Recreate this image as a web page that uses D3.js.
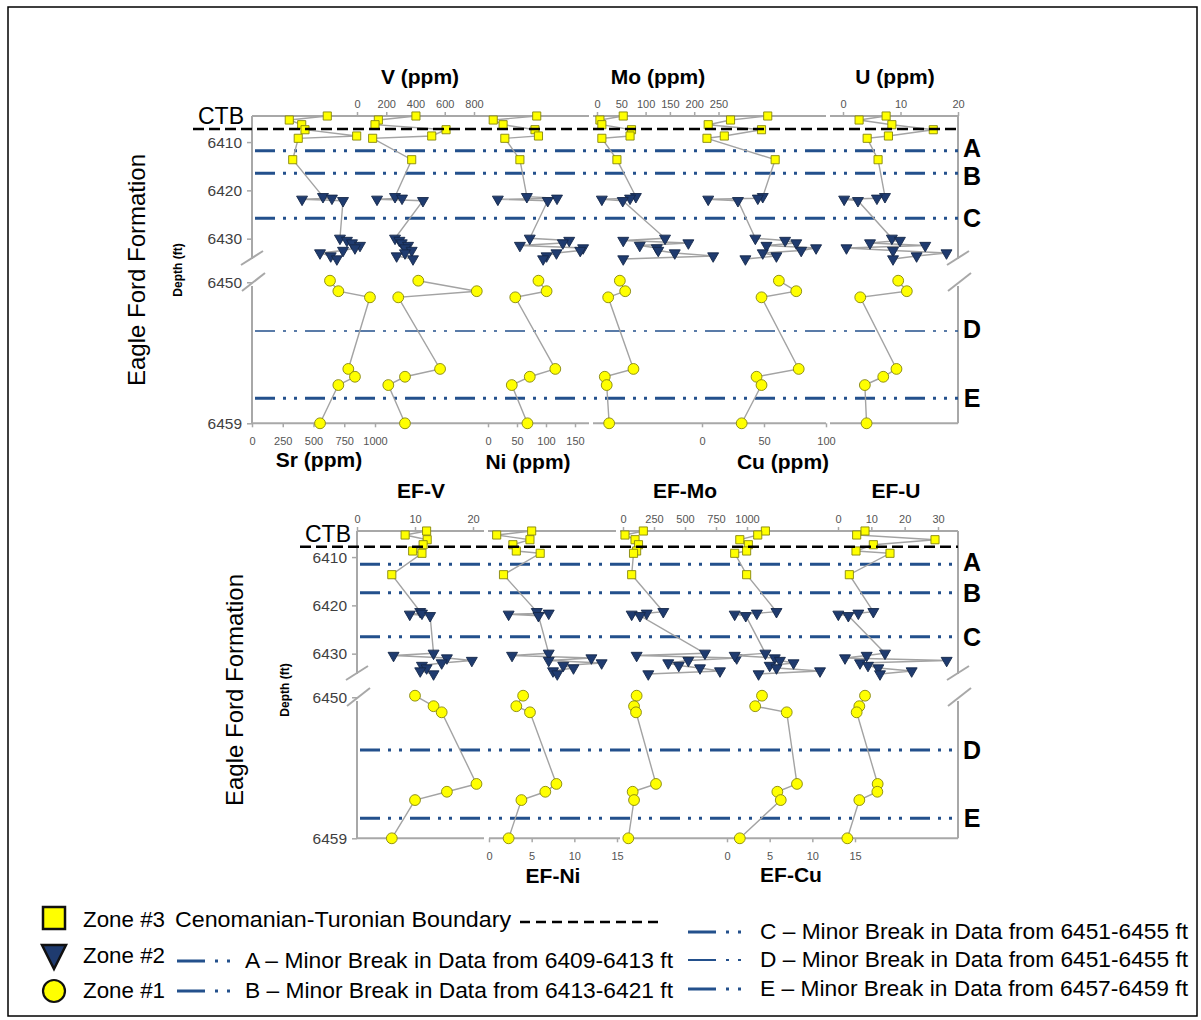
<!DOCTYPE html>
<html>
<head>
<meta charset="utf-8">
<script src="https://cdn.jsdelivr.net/npm/d3@7/dist/d3.min.js"></script>
<style>
  body { margin: 0; background: #fff; }
  svg { display: block; }
  text { font-family: "Liberation Sans", Arial, sans-serif; }
</style>
</head>
<body>
<svg id="chart" width="1201" height="1020"></svg>
<script>
// ---------------- sample depths (ft) ----------------
const zone3Depths = [6404.6, 6405.43, 6406.4, 6407.44, 6408.74, 6409.22, 6413.65];
const zone2Depths = [6421.31, 6421.64, 6421.85, 6422.14,
                     6429.93, 6430.38, 6430.9, 6431.42, 6431.93, 6432.45, 6432.97, 6433.59, 6434.21];
const zone1Depths = [6449.9, 6450.57, 6450.96, 6455.53, 6456.03, 6456.56, 6459.0];
const depthTicks = [6410, 6420, 6430, 6450, 6459];

// ---------------- concentrations (ppm) ----------------
const srZone3 = [612, 303, 404, 431, 851, 376, 331];
const srZone2 = [577, 650, 407, 740, 715, 772, 813, 878, 837, 740, 553, 640, 690];
const srZone1 = [634, 702, 959, 783, 837, 702, 553];

const vZone3 = [403, 146, 123, 609, 511, 107, 374];
const vZone2 = [260, 308, 137, 451, 260, 290, 306, 349, 330, 374, 328, 271, 383];
const vZone1 = [419, 819, 282, 568, 328, 214, 328];

const niZone3 = [84, 9, 26, 81, 87, 29, 55];
const niZone2 = [67, 119, 17, 103, 72, 140, 129, 55, 164, 159, 118, 101, 95];
const niZone1 = [87, 101, 47, 116, 72, 41, 68];

const moZone3 = [54, 6, 10, 71, 68, 10, 41];
const moZone2 = [80, 68, 10, 53, 140, 54, 188, 88, 123, 126, 160, 239, 54];
const moZone1 = [47, 58, 23, 75, 16, 20, 25];

const cuZone3 = [53, 23, 5, 48, 18, 4, 59];
const cuZone2 = [49, 45, 5, 29, 43, 67, 76, 52, 92, 80, 49, 60, 35];
const cuZone1 = [62, 76, 48, 78, 44, 48, 32];

const uZone3 = [7.5, 2.8, 8.5, 15.7, 7.9, 4.2, 6.1];
const uZone2 = [7.3, 5.9, 0.2, 2.6, 8.5, 9.9, 4.7, 14.3, 0.6, 8.7, 18, 12.8, 8.7];
const uZone1 = [9.6, 11.1, 3.0, 9.3, 7.0, 3.8, 4.1];

// ---------------- enrichment factors ----------------
const efVZone3 = [12.0, 8.3, 12.1, 11.4, 9.6, 11.2, 6.0];
const efVZone2 = [10.9, 11.2, 9.1, 12.6, 13.2, 6.3, 15.5, 19.8, 14.6, 11.2, 12.0, 10.9, 13.2];
const efVZone1 = [10.0, 13.2, 14.6, 20.6, 15.5, 10.0, 6.0];

const efNiZone3 = [5.0, 0.9, 4.8, 2.8, 3.2, 6.0, 1.7];
const efNiZone2 = [5.6, 7.0, 2.3, 5.8, 7.0, 2.7, 12.0, 7.0, 13.2, 8.7, 9.9, 7.5, 8.0];
const efNiZone1 = [4.0, 3.2, 4.8, 7.9, 6.6, 3.8, 2.3];

const efMoZone3 = [164, 16, 97, 125, 110, 85, 70];
const efMoZone2 = [325, 191, 70, 137, 661, 110, 917, 527, 365, 450, 621, 782, 204];
const efMoZone1 = [110, 89, 105, 266, 78, 89, 43];

const efCuZone3 = [4.5, 3.6, 1.5, 2.5, 2.3, 0.9, 2.3];
const efCuZone2 = [5.8, 3.5, 0.9, 2.2, 4.5, 0.9, 5.6, 6.2, 7.8, 5.0, 5.8, 10.9, 3.7];
const efCuZone1 = [4.1, 3.3, 7.0, 8.2, 5.9, 6.3, 1.5];

const efUZone3 = [8.1, 5.6, 29.1, 10.6, 5.4, 15.6, 3.4];
const efUZone2 = [10.6, 6.1, 0.1, 3.1, 14.1, 8.6, 2.1, 32.6, 6.6, 9.0, 12.1, 22.1, 12.6];
const efUZone1 = [8.1, 6.4, 5.6, 11.9, 11.8, 6.4, 2.8];

// ---------------- axis tick labels ----------------
const srTicks = [0, 250, 500, 750, 1000];
const vTicks = [0, 200, 400, 600, 800];
const niTicks = [0, 50, 100, 150];
const moTicks = [0, 50, 100, 150, 200, 250];
const cuTicks = [0, 50, 100];
const uTicks = [0, 10, 20];
const efVTicks = [0, 10, 20];
const efNiTicks = [0, 5, 10, 15];
const efMoTicks = [0, 250, 500, 750, 1000];
const efCuTicks = [0, 5, 10, 15];
const efUTicks = [0, 10, 20, 30];

// ---------------- marker horizons (ft) ----------------
const breakLabels = ["A", "B", "C", "D", "E"];
const topBreakDepths = [6411.79, 6416.47, 6425.78, 6453.11, 6457.4];
const bottomBreakDepths = [6411.5, 6417.38, 6426.49, 6453.37, 6457.72];
const topCtbDepth = 6407.29;
const bottomCtbDepth = 6407.85;

// ---------------- legend text ----------------
const zoneLabels = ["Zone #3", "Zone #2", "Zone #1"];
const ctbLegendLabel = "Cenomanian-Turonian Boundary";
const breakLegendLabels = [
  "A \u2013 Minor Break in Data from 6409-6413 ft",
  "B \u2013 Minor Break in Data from 6413-6421 ft",
  "C \u2013 Minor Break in Data from 6451-6455 ft",
  "D \u2013 Minor Break in Data from 6451-6455 ft",
  "E \u2013 Minor Break in Data from 6457-6459 ft"
];

// ---------------- styling ----------------
const C = {
  yellow: "#ffff00", yellowEdge: "#86860c",
  navy: "#1f3b6f", navyEdge: "#15284a",
  trace: "#a3a3a3", axis: "#a8a8a8", tickText: "#555",
  blue: "#23508c"
};
const BREAK_DASH = "20,8,3,8,3,8";

const svg = d3.select("#chart");

// outer border
svg.append("rect").attr("x", 8).attr("y", 7).attr("width", 1189).attr("height", 1009)
  .attr("fill", "none").attr("stroke", "#000").attr("stroke-width", 1.5);

// depth scale with a break between the upper and the lower interval
const depthDomain = [6404.6, 6435, 6449.3, 6459];
const depthRange = [0, 146.8, 155.3, 307.3];

const sym = {
  square: d3.symbol().type(d3.symbolSquare).size(66)(),
  tri: d3.symbol().type(d3.symbolTriangle).size(52)(),
  circle: d3.symbol().type(d3.symbolCircle).size(92)()
};

function drawPanel(cfg) {
  const g = svg.append("g");
  const y = d3.scaleLinear().domain(depthDomain).range(depthRange.map(v => v + cfg.top));
  const yTop = cfg.top, yBot = y(6459);

  // frame lines
  const frame = g.append("g").attr("stroke", C.axis).attr("stroke-width", 2).attr("fill", "none");
  cfg.topSegs.forEach(([a, b]) => frame.append("line").attr("x1", a).attr("x2", b).attr("y1", yTop).attr("y2", yTop));
  cfg.botSegs.forEach(([a, b]) => frame.append("line").attr("x1", a).attr("x2", b).attr("y1", yBot).attr("y2", yBot));
  [cfg.left, cfg.right].forEach(x => {
    frame.append("line").attr("x1", x).attr("x2", x).attr("y1", yTop).attr("y2", yTop + 143);
    frame.append("line").attr("x1", x).attr("x2", x).attr("y1", yTop + 170).attr("y2", yBot);
    frame.append("line").attr("x1", x - 11).attr("y1", yTop + 149).attr("x2", x + 11).attr("y2", yTop + 135);
    frame.append("line").attr("x1", x - 10).attr("y1", yTop + 175).attr("x2", x + 13).attr("y2", yTop + 157);
  });

  // depth axis
  const dAxis = g.append("g").attr("transform", `translate(${cfg.left},0)`)
    .call(d3.axisLeft(y).tickValues(depthTicks).tickFormat(d3.format("d")).tickSizeInner(5).tickSizeOuter(0).tickPadding(5));
  dAxis.select(".domain").remove();
  dAxis.selectAll("line").attr("stroke", C.axis).attr("stroke-width", 1.5);
  dAxis.selectAll("text").attr("font-size", 15.5).attr("fill", "#3f3f3f")
    .attr("font-family", "Liberation Sans, Arial, sans-serif");

  // horizon lines A-E
  cfg.breaks.forEach((d, i) => {
    g.append("line").attr("x1", cfg.left + 3).attr("x2", cfg.right).attr("y1", y(d)).attr("y2", y(d))
      .attr("stroke", C.blue).attr("stroke-width", cfg.thinD && i === 3 ? 1.6 : 3)
      .attr("stroke-dasharray", BREAK_DASH);
    g.append("text").attr("x", cfg.right + 14).attr("y", cfg.labelYs[i]).attr("dy", "0.36em")
      .attr("text-anchor", "middle").attr("font-size", 25).attr("font-weight", "bold")
      .text(breakLabels[i]);
  });

  // columns
  cfg.cols.forEach(col => {
    const x = d3.scaleLinear().domain(col.domain).range(col.range);
    const axisY = col.side === "top" ? yTop : yBot;
    const ax = (col.side === "top" ? d3.axisTop(x) : d3.axisBottom(x))
      .tickValues(col.ticks).tickFormat(d3.format("d"))
      .tickSizeInner(4).tickSizeOuter(0).tickPadding(col.side === "top" ? 4 : 10);
    const axG = g.append("g").attr("transform", `translate(0,${axisY})`).call(ax);
    axG.select(".domain").remove();
    axG.selectAll("line").attr("stroke", C.axis).attr("stroke-width", 1.5);
    axG.selectAll("text").attr("font-size", 11).attr("fill", C.tickText)
      .attr("font-family", "Liberation Sans, Arial, sans-serif");

    const upper = zone3Depths.map((d, i) => ({ d, v: col.z3[i], zone: 3 }))
      .concat(zone2Depths.map((d, i) => ({ d, v: col.z2[i], zone: 2 })));
    const lower = zone1Depths.map((d, i) => ({ d, v: col.z1[i], zone: 1 }));
    const line = d3.line().x(p => x(p.v)).y(p => y(p.d));
    [upper, lower].forEach(pts => g.append("path").attr("d", line(pts))
      .attr("fill", "none").attr("stroke", C.trace).attr("stroke-width", 1.4));

    const all = upper.concat(lower);
    g.append("g").selectAll("path").data(all).join("path")
      .attr("transform", p => `translate(${x(p.v)},${y(p.d)})` + (p.zone === 2 ? " rotate(180)" : ""))
      .attr("d", p => p.zone === 3 ? sym.square : p.zone === 2 ? sym.tri : sym.circle)
      .attr("fill", p => p.zone === 2 ? C.navy : C.yellow)
      .attr("stroke", p => p.zone === 2 ? C.navyEdge : C.yellowEdge)
      .attr("stroke-width", 0.9);
  });

  // Cenomanian-Turonian boundary
  g.append("line").attr("x1", cfg.ctbX).attr("x2", cfg.right).attr("y1", y(cfg.ctb)).attr("y2", y(cfg.ctb))
    .attr("stroke", "#000").attr("stroke-width", 2.6).attr("stroke-dasharray", "11,5");
  g.append("text").attr("x", cfg.ctbX + 5).attr("y", y(cfg.ctb) - 5).attr("font-size", 23)
    .attr("font-family", "Lato, 'Open Sans', sans-serif").text("CTB");

  // titles
  cfg.titles.forEach(t => g.append("text").attr("x", t.x).attr("y", t.y).attr("text-anchor", "middle")
    .attr("font-size", 21).attr("font-weight", "bold").text(t.text));

  // side labels
  g.append("text").attr("transform", `translate(${cfg.efX},${cfg.labelY}) rotate(-90)`)
    .attr("text-anchor", "middle").attr("dy", "0.35em").attr("font-size", 24).text("Eagle Ford Formation");
  g.append("text").attr("transform", `translate(${cfg.depthX},${cfg.labelY}) rotate(-90)`)
    .attr("text-anchor", "middle").attr("dy", "0.35em").attr("font-size", 12).attr("font-weight", "bold").text("Depth (ft)");
}

drawPanel({
  top: 116, left: 252, right: 958, ctbX: 193, ctb: topCtbDepth, breaks: topBreakDepths, thinD: true,
  labelYs: [148, 176, 218, 329, 398],
  topSegs: [[252, 589], [593, 826], [830, 958]],
  botSegs: [[252, 589], [593, 826], [830, 958]],
  efX: 137, depthX: 178, labelY: 270,
  cols: [
    { domain: [0, 1000], range: [252, 375], side: "bottom", ticks: srTicks, z3: srZone3, z2: srZone2, z1: srZone1 },
    { domain: [0, 800], range: [357, 474], side: "top", ticks: vTicks, z3: vZone3, z2: vZone2, z1: vZone1 },
    { domain: [0, 150], range: [488, 575], side: "bottom", ticks: niTicks, z3: niZone3, z2: niZone2, z1: niZone1 },
    { domain: [0, 250], range: [597, 718.5], side: "top", ticks: moTicks, z3: moZone3, z2: moZone2, z1: moZone1 },
    { domain: [0, 100], range: [702, 826], side: "bottom", ticks: cuTicks, z3: cuZone3, z2: cuZone2, z1: cuZone1 },
    { domain: [0, 20], range: [843, 958], side: "top", ticks: uTicks, z3: uZone3, z2: uZone2, z1: uZone1 }
  ],
  titles: [
    { text: "V (ppm)", x: 420, y: 84 }, { text: "Mo (ppm)", x: 658, y: 84 }, { text: "U (ppm)", x: 895, y: 84 },
    { text: "Sr (ppm)", x: 319, y: 467 }, { text: "Ni (ppm)", x: 528, y: 469 }, { text: "Cu (ppm)", x: 783, y: 469 }
  ]
});

drawPanel({
  top: 531, left: 357, right: 958, ctbX: 300, ctb: bottomCtbDepth, breaks: bottomBreakDepths, thinD: false,
  labelYs: [562, 593, 637, 750, 818],
  topSegs: [[357, 484], [488, 616], [620, 958]],
  botSegs: [[357, 484], [489, 620], [625, 958]],
  efX: 235, depthX: 285, labelY: 690,
  cols: [
    { domain: [0, 20], range: [357, 473], side: "top", ticks: efVTicks, z3: efVZone3, z2: efVZone2, z1: efVZone1 },
    { domain: [0, 15], range: [489, 617], side: "bottom", ticks: efNiTicks, z3: efNiZone3, z2: efNiZone2, z1: efNiZone1 },
    { domain: [0, 1000], range: [623, 747], side: "top", ticks: efMoTicks, z3: efMoZone3, z2: efMoZone2, z1: efMoZone1 },
    { domain: [0, 15], range: [727, 855], side: "bottom", ticks: efCuTicks, z3: efCuZone3, z2: efCuZone2, z1: efCuZone1 },
    { domain: [0, 30], range: [838, 938], side: "top", ticks: efUTicks, z3: efUZone3, z2: efUZone2, z1: efUZone1 }
  ],
  titles: [
    { text: "EF-V", x: 421, y: 498 }, { text: "EF-Mo", x: 685, y: 498 }, { text: "EF-U", x: 896, y: 498 },
    { text: "EF-Ni", x: 553, y: 883 }, { text: "EF-Cu", x: 791, y: 882 }
  ]
});

// ---------------- legend ----------------
const lg = svg.append("g");
const legendFont = 22;
// zone markers
lg.append("rect").attr("x", 43).attr("y", 907).attr("width", 22).attr("height", 22)
  .attr("fill", C.yellow).attr("stroke", "#111").attr("stroke-width", 2.5);
lg.append("path").attr("d", d3.line()([[42, 945], [66, 945], [54, 969]]) + "Z")
  .attr("fill", C.navy).attr("stroke", "#111").attr("stroke-width", 2.5).attr("stroke-linejoin", "miter");
lg.append("circle").attr("cx", 54).attr("cy", 991).attr("r", 11)
  .attr("fill", C.yellow).attr("stroke", "#111").attr("stroke-width", 2.2);
[927, 963, 998].forEach((yy, i) => lg.append("text").attr("x", 83).attr("y", yy)
  .attr("font-size", legendFont).attr("textLength", 82).attr("lengthAdjust", "spacingAndGlyphs").text(zoneLabels[i]));
lg.append("text").attr("x", 175).attr("y", 927).attr("font-size", legendFont)
  .attr("textLength", 336).attr("lengthAdjust", "spacingAndGlyphs").text(ctbLegendLabel);
lg.append("line").attr("x1", 520).attr("x2", 664).attr("y1", 922).attr("y2", 922)
  .attr("stroke", "#000").attr("stroke-width", 2.4).attr("stroke-dasharray", "10,6");

const sampleDash = "28,10,3,9,3,20";
const legendRows = [
  { x: 177, y: 961, tx: 245, ty: 968, i: 0, w: 3 },
  { x: 177, y: 991, tx: 245, ty: 998, i: 1, w: 3 },
  { x: 688, y: 932, tx: 760, ty: 939, i: 2, w: 3.2 },
  { x: 688, y: 960, tx: 760, ty: 967, i: 3, w: 2 },
  { x: 688, y: 989, tx: 760, ty: 996, i: 4, w: 3.2 }
];
legendRows.forEach(r => {
  lg.append("line").attr("x1", r.x).attr("x2", r.x + 57).attr("y1", r.y).attr("y2", r.y)
    .attr("stroke", C.blue).attr("stroke-width", r.w).attr("stroke-dasharray", sampleDash);
  lg.append("text").attr("x", r.tx).attr("y", r.ty).attr("font-size", legendFont)
    .attr("textLength", 428).attr("lengthAdjust", "spacingAndGlyphs").text(breakLegendLabels[r.i]);
});
</script>
</body>
</html>
